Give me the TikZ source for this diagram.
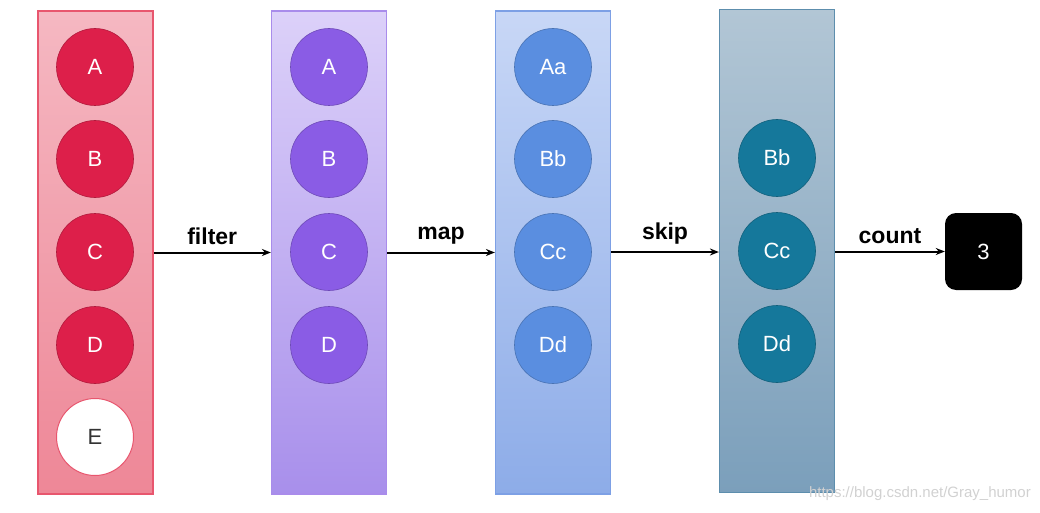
\documentclass[tikz,border=0pt]{standalone}
\usepackage{fontspec}
\setmainfont{Liberation Sans}
\usetikzlibrary{arrows.meta}
\definecolor{redB}{HTML}{E8566E}
\definecolor{redT}{HTML}{F5B8C2}
\definecolor{redD}{HTML}{EE8797}
\definecolor{redC}{HTML}{DD1F4A}
\definecolor{purB}{HTML}{A98CEB}
\definecolor{purT}{HTML}{DCD1F9}
\definecolor{purD}{HTML}{A88FEB}
\definecolor{purC}{HTML}{8A5CE5}
\definecolor{bluB}{HTML}{7DA0E5}
\definecolor{bluT}{HTML}{C8D7F6}
\definecolor{bluD}{HTML}{8DACE8}
\definecolor{bluC}{HTML}{5A8EE0}
\definecolor{tealB}{HTML}{5D8EAD}
\definecolor{tealT}{HTML}{B2C6D5}
\definecolor{tealD}{HTML}{7B9FBB}
\definecolor{tealC}{HTML}{15789B}
\tikzset{
  x=1pt, y=-1pt,
  col/.style={draw=#1B, line width=1.2pt, top color=#1T, bottom color=#1D, minimum width=115pt, minimum height=483pt, inner sep=0pt},
  ball/.style={circle, fill=#1C, draw=#1C!80!black, line width=0.6pt, minimum size=77pt, inner sep=0pt, text=white, font=\fontsize{22}{26}\selectfont},
  conn/.style={-{Stealth[length=9pt,width=7pt]}, line width=2pt, black},
  lbl/.style={font=\bfseries\fontsize{23}{26}\selectfont, above, inner sep=7pt}
}
\begin{document}
\begin{tikzpicture}
\useasboundingbox (0,0) rectangle (1040,513);
% columns
\node[col=red] (c1) at (95.5,252.5) {};
\node[col=pur] (c2) at (329,252.5) {};
\node[col=blu] (c3) at (553,252.5) {};
\node[col=teal] (c4) at (777,251) {};
% red
\node[ball=red] (r1) at (95,67) {A};
\node[ball=red] (r2) at (95,159) {B};
\node[ball=red] (r3) at (95,252) {C};
\node[ball=red] (r4) at (95,345) {D};
\node[circle, fill=white, draw=redB, line width=1pt, minimum size=77pt, inner sep=0pt, text=black!80, font=\fontsize{22}{26}\selectfont] (r5) at (95,437) {E};
% purple
\node[ball=pur] (p1) at (329,67) {A};
\node[ball=pur] (p2) at (329,159) {B};
\node[ball=pur] (p3) at (329,252) {C};
\node[ball=pur] (p4) at (329,345) {D};
% blue
\node[ball=blu] (b1) at (553,67) {Aa};
\node[ball=blu] (b2) at (553,159) {Bb};
\node[ball=blu] (b3) at (553,252) {Cc};
\node[ball=blu] (b4) at (553,345) {Dd};
% teal
\node[ball=teal] (t2) at (777,158) {Bb};
\node[ball=teal] (t3) at (777,251) {Cc};
\node[ball=teal] (t4) at (777,344) {Dd};
% result
\node[fill=black, rounded corners=11pt, minimum size=77pt, inner sep=0pt, text=white, font=\fontsize{22}{26}\selectfont] (res) at (983.5,251.5) {3};
% connectors
\draw[conn] (c1.east |- 0,252.5) -- node[lbl] {filter} (c2.west |- 0,252.5);
\draw[conn] (c2.east |- 0,252.5) -- node[lbl] {map} (c3.west |- 0,252.5);
\draw[conn] (c3.east |- 0,252) -- node[lbl] {skip} (c4.west |- 0,252);
\draw[conn] (c4.east |- 0,251.5) -- node[lbl] {count} (res.west);
% watermark
\node[text=black!18, font=\fontsize{15}{18}\selectfont, anchor=east, inner sep=0pt] (wm) at (1031,494) {https://blog.csdn.net/Gray\_humor};
\end{tikzpicture}
\end{document}
